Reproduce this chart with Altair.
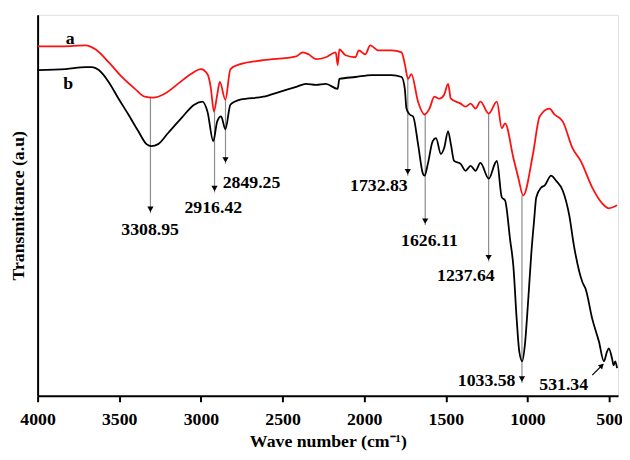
import altair as alt
import pandas as pd

# ---- data (transmittance in arbitrary units) ----
wn_a = [4000, 3850, 3706, 3646, 3565, 3484, 3404, 3343, 3293, 3222, 3141, 3061, 3000, 2960, 2940,
        2920, 2900, 2884, 2850, 2819, 2759, 2617, 2416, 2376, 2340, 2295, 2235, 2174, 2162, 2152,
        2114, 2053, 2033, 1993, 1963, 1913, 1832, 1771, 1751, 1731, 1711, 1670, 1630, 1600, 1570,
        1540, 1510, 1486, 1469, 1409, 1379, 1348, 1318, 1288, 1237, 1187, 1157, 1137, 1086, 1056,
        1026, 966, 925, 865, 834, 784, 724, 674, 603, 542, 502, 451]
t_a = [356, 356, 357, 353, 340, 325, 313, 305, 304, 308, 318, 328, 333, 328, 315,
       290, 307, 320, 302, 333, 338, 342, 346, 350, 348, 343, 345, 350, 337, 353,
       347, 345, 352, 348, 357, 352, 352, 350, 338, 323, 328, 300, 287, 293, 305,
       303, 307, 318, 303, 298, 295, 298, 293, 300, 288, 300, 273, 278, 243, 223,
       205, 247, 285, 293, 287, 280, 253, 240, 213, 197, 192, 195]

wn_b = [4000, 3827, 3706, 3666, 3625, 3565, 3504, 3444, 3383, 3333, 3303, 3262, 3202, 3121, 3041,
        2990, 2960, 2924, 2900, 2876, 2850, 2819, 2759, 2617, 2517, 2416, 2356, 2295, 2235, 2162,
        2152, 2053, 1953, 1832, 1771, 1751, 1741, 1721, 1700, 1670, 1640, 1630, 1610, 1580, 1560,
        1530, 1510, 1486, 1469, 1449, 1409, 1379, 1348, 1318, 1288, 1237, 1197, 1187, 1157, 1137,
        1106, 1086, 1066, 1050, 1032, 1016, 996, 976, 959, 946, 916, 895, 855, 825, 784,
        744, 714, 663, 643, 603, 562, 532, 512, 502, 482, 472, 462, 451]
t_b = [332, 333, 335, 335, 332, 320, 303, 287, 270, 257, 255, 257, 268, 283, 297,
       300, 290, 260, 280, 285, 272, 297, 302, 305, 310, 315, 318, 317, 318, 313,
       323, 325, 327, 327, 325, 313, 293, 287, 285, 257, 227, 225, 237, 260, 263,
       247, 253, 270, 257, 240, 237, 230, 235, 230, 238, 222, 238, 240, 203, 200,
       160, 133, 80, 47, 37, 53, 97, 147, 180, 203, 213, 215, 225, 220, 210,
       185, 153, 117, 110, 80, 57, 37, 47, 50, 40, 33, 37, 30]

# peak markers: wavenumber, start and end of the vertical arrow
peak_wn = [3308.95, 2916.42, 2849.25, 1732.83, 1626.11, 1237.64, 1033.58]
peak_start = [304, 290, 302, 323, 287, 288, 205]
peak_end = [187, 208, 237, 225, 175, 138, 15]

# diagonal arrow for 531.34
diag_wn = [603, 536]
diag_t = [23, 34]

label_text = ["3308.95", "2916.42", "2849.25", "1732.83", "1626.11", "1237.64", "1033.58", "531.34", "a", "b"]
label_wn = [3311, 2924, 2690, 1910, 1600, 1377, 1250, 778, 3801, 3813]
label_t = [170, 192, 218, 215, 159, 123, 17, 13, 363, 318]

x_ticks = [4000, 3500, 3000, 2500, 2000, 1500, 1000, 500]

# ---- frames ----
df_a = pd.DataFrame({"wn": wn_a, "t": t_a})
df_b = pd.DataFrame({"wn": wn_b, "t": t_b})
df_peaks = pd.DataFrame({"wn": peak_wn, "t0": peak_start, "t1": peak_end})
df_diag = pd.DataFrame({"wn": diag_wn, "t": diag_t})
df_diag_head = df_diag.iloc[[1]]
df_labels = pd.DataFrame({"txt": label_text, "wn": label_wn, "t": label_t})

FONT = "Liberation Serif"

xscale = alt.Scale(domain=[445, 4000], reverse=True, nice=False, zero=False)
yscale = alt.Scale(domain=[2, 388], nice=False, zero=False)

X = alt.X("wn:Q", scale=xscale,
          axis=alt.Axis(values=x_ticks, title="Wave number (cm⁻¹)", format="d",
                        grid=False, tickSize=6, tickWidth=2, tickColor="black",
                        domainColor="black", domainWidth=2, labelFlush=False,
                        labelFont=FONT, labelFontSize=18, labelFontWeight="bold",
                        labelColor="black", labelPadding=9,
                        titleFont=FONT, titleFontSize=18, titleFontWeight="bold",
                        titleColor="black", titlePadding=4))
Y = alt.Y("t:Q", scale=yscale,
          axis=alt.Axis(title="Transmittance (a.u)", labels=False, ticks=False, grid=False,
                        domainColor="black", domainWidth=2,
                        titleFont=FONT, titleFontSize=18, titleFontWeight="bold",
                        titleColor="black", titlePadding=10))

line_a = alt.Chart(df_a).mark_line(color="#ff1010", strokeWidth=1.8,
                                   interpolate="monotone").encode(x=X, y=Y)
line_b = alt.Chart(df_b).mark_line(color="black", strokeWidth=1.8,
                                   interpolate="monotone").encode(x=X, y=Y)

rules = alt.Chart(df_peaks).mark_rule(color="#8c8c8c", strokeWidth=1.2).encode(
    x=alt.X("wn:Q", scale=xscale), y=alt.Y("t0:Q", scale=yscale), y2="t1:Q")
heads = alt.Chart(df_peaks).mark_point(shape="triangle-down", filled=True, color="black",
                                       size=40, opacity=1, yOffset=-4).encode(
    x=alt.X("wn:Q", scale=xscale), y=alt.Y("t1:Q", scale=yscale))

diag = alt.Chart(df_diag).mark_line(color="black", strokeWidth=1.2).encode(
    x=alt.X("wn:Q", scale=xscale), y=alt.Y("t:Q", scale=yscale))
diag_head = alt.Chart(df_diag_head).mark_point(shape="triangle", angle=45, filled=True,
                                               color="black", size=35, opacity=1,
                                               xOffset=-2, yOffset=2).encode(
    x=alt.X("wn:Q", scale=xscale), y=alt.Y("t:Q", scale=yscale))

labels = alt.Chart(df_labels).mark_text(font=FONT, fontSize=18, fontWeight="bold",
                                        color="black", align="center", baseline="middle").encode(
    x=alt.X("wn:Q", scale=xscale), y=alt.Y("t:Q", scale=yscale), text="txt:N")

chart = alt.layer(rules, heads, line_a, line_b, diag, diag_head, labels).properties(
    width=588, height=386,
    autosize=alt.AutoSizeParams(type="none"),
    padding={"left": 30, "top": 4, "right": 4, "bottom": 54},
).configure_view(stroke="black", strokeWidth=2).configure(background="white")

chart.save("out.html", embed_options={"renderer": "svg", "actions": False})
